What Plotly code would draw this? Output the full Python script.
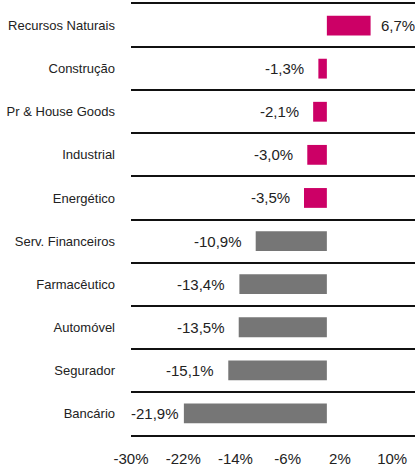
import plotly.graph_objects as go

categories = ["Recursos Naturais", "Construção", "Pr & House Goods", "Industrial", "Energético",
              "Serv. Financeiros", "Farmacêutico", "Automóvel", "Segurador", "Bancário"]
values = [6.7, -1.3, -2.1, -3.0, -3.5, -10.9, -13.4, -13.5, -15.1, -21.9]
highlight = [True, True, True, True, True, False, False, False, False, False]
tick_vals = [-30, -22, -14, -6, 2, 10]
tick_text = ["-30%", "-22%", "-14%", "-6%", "2%", "10%"]

MAGENTA = "#CC0066"
GREY = "#767676"
FONT = "Liberation Sans, Arial, sans-serif"

colors = [MAGENTA if h else GREY for h in highlight]

fig = go.Figure(go.Bar(
    x=values, y=categories, orientation="h",
    marker=dict(color=colors, line=dict(width=0)),
    width=0.46,
    hoverinfo="skip",
))

def fmt(v):
    return ("%.1f" % v).replace(".", ",") + "%"

annotations = []
for c, v in zip(categories, values):
    if v >= 0:
        shift = 8
    elif v < -20:
        shift = -3
    else:
        shift = -12
    annotations.append(dict(
        x=v, y=c, xref="x", yref="y", text=fmt(v), showarrow=False,
        xanchor="left" if v >= 0 else "right",
        xshift=shift,
        font=dict(family=FONT, size=15, color="#222222"),
    ))

fig.update_layout(
    width=415, height=468,
    margin=dict(l=131, r=0, t=4, b=33),
    paper_bgcolor="white", plot_bgcolor="white",
    showlegend=False,
    annotations=annotations,
    xaxis=dict(
        range=[-30, 13.5],
        tickmode="array", tickvals=tick_vals, ticktext=tick_text,
        showgrid=False, zeroline=False,
        showline=True, mirror=True, linecolor="#111111", linewidth=2,
        ticks="", ticklabelstandoff=9,
        tickfont=dict(family=FONT, size=15, color="#222222"),
        automargin=False, fixedrange=True,
    ),
    yaxis=dict(
        categoryorder="array", categoryarray=categories,
        autorange="reversed",
        tickson="boundaries",
        showgrid=True, gridcolor="#111111", gridwidth=2,
        zeroline=False, showline=False,
        ticks="", ticklabelstandoff=15,
        tickfont=dict(family=FONT, size=13, color="#222222"),
        automargin=False, fixedrange=True,
    ),
)

fig.write_html("out.html", config={"displayModeBar": False},
               post_script="document.body.style.margin='0';")
